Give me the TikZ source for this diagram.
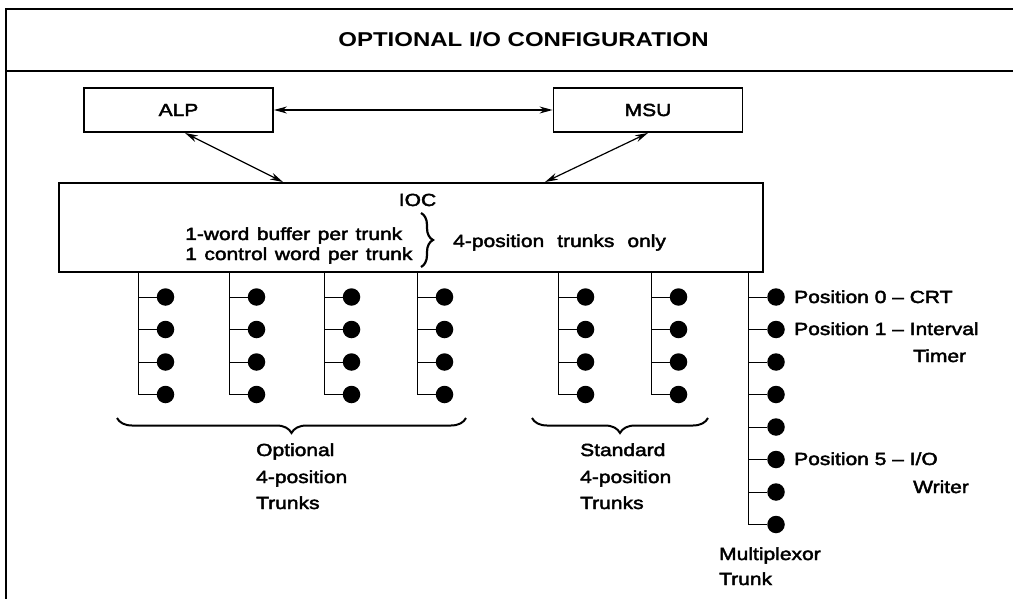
\documentclass[tikz,border=0pt]{standalone}
\usepackage{fontspec}
\setmainfont{Liberation Sans}[FakeStretch=1.2]
\newfontfamily\medfont{Liberation Sans}[FakeStretch=1.2, FakeBold=2.5, Ligatures=TeX]
\usetikzlibrary{decorations.pathreplacing,arrows.meta,calc}

\begin{document}
\begin{tikzpicture}[x=1pt,y=-1pt,
  frame/.style={line width=2.4pt},
  unit/.style={draw, line width=1.9pt, minimum width=189pt, minimum height=44pt,
    inner sep=0pt, font=\medfont\fontsize{17.5}{20}\selectfont},
  link/.style={line width=1.2pt, {Stealth[length=13pt,width=7pt]}-{Stealth[length=13pt,width=7pt]}},
  wire/.style={line width=0.9pt},
  dot/.style={circle, fill=black, inner sep=0pt, minimum size=17.5pt},
  lbl/.style={inner sep=0pt, anchor=base west, font=\medfont\fontsize{17.5}{20}\selectfont},
  grp/.style={line width=2pt, decorate, decoration={brace, mirror, amplitude=15pt}},
  widesp/.style={execute at begin node={\spaceskip=#1\relax}}
]
\useasboundingbox (0,0) rectangle (1013,599);
\clip (0,0) rectangle (1013,599);

% outer frame and title band
\draw[frame] (6,620) -- (6,9) -- (1040,9);
\draw[frame] (6,71) -- (1040,71);
\node[font=\bfseries\fontsize{20}{24}\selectfont, inner sep=0pt, anchor=base]
  (title) at (523.5,47) {OPTIONAL I/O CONFIGURATION};

% processor, storage and I/O controller
\node[unit] (alp) at (178.5,110) {ALP};
\node[unit] (msu) at (648,110) {MSU};
\node[draw, line width=1.9pt, minimum width=704pt, minimum height=89pt, inner sep=0pt]
  (ioc) at (411,227.5) {};
\node[lbl, anchor=base] (ioclbl) at (417.5,206) {IOC};
\node[lbl, widesp=7.5pt] (buf) at (185,240) {1-word buffer per trunk};
\node[lbl, widesp=7.5pt] (ctl) at (185,260) {1 control word per trunk};
\draw[line width=2.2pt, decorate, decoration={brace, amplitude=12pt}] (421,213) -- (421,267);
\node[lbl, widesp=13pt] (only) at (453,247) {4-position trunks only};

% links between units
\draw[link] (alp.east) -- (msu.west);
\draw[link] ([xshift=6.5pt]alp.south) -- ([xshift=-128pt]ioc.north);
\draw[link] (msu.south) -- ([xshift=134pt]ioc.north);

% 4-position trunks (four optional, two standard)
\foreach \k/\xl in {1/138, 2/229, 3/324, 4/417, 5/558, 6/651} {
  \coordinate (t\k) at (\xl,272);
  \foreach \j in {1,...,4}
    \node[dot] (d\k-\j) at (\xl+27.5, 297+32.5*\j-32.5) {};
  \draw[wire] (t\k) |- (d\k-4);
  \foreach \j in {1,2,3}
    \draw[wire] (d\k-\j -| t\k) -- (d\k-\j);
}

% multiplexor trunk
\coordinate (tm) at (748,272);
\foreach \j in {1,...,8}
  \node[dot] (m\j) at (776, 297+32.5*\j-32.5) {};
\draw[wire] (tm) |- (m8);
\foreach \j in {1,...,7}
  \draw[wire] (m\j -| tm) -- (m\j);

% group braces and captions
\draw[grp] (117,418) -- (466,418);
\draw[grp] (532,418) -- (708,418);
\node[lbl] (opt1) at (256,456) {Optional};
\node[lbl] (opt2) at (256,483) {4-position};
\node[lbl] (opt3) at (256,509) {Trunks};
\node[lbl] (std1) at (580,456) {Standard};
\node[lbl] (std2) at (580,483) {4-position};
\node[lbl] (std3) at (580,509) {Trunks};

\node[lbl] (p0) at (794,303) {Position 0 – CRT};
\node[lbl] (p1) at (794,335) {Position 1 – Interval};
\node[lbl] (p1b) at (913,362) {Timer};
\node[lbl] (p5) at (794,465) {Position 5 – I/O};
\node[lbl] (p5b) at (913,493) {Writer};
\node[lbl] (mx1) at (719,560) {Multiplexor};
\node[lbl] (mx2) at (719,585) {Trunk};
\end{tikzpicture}
\end{document}
